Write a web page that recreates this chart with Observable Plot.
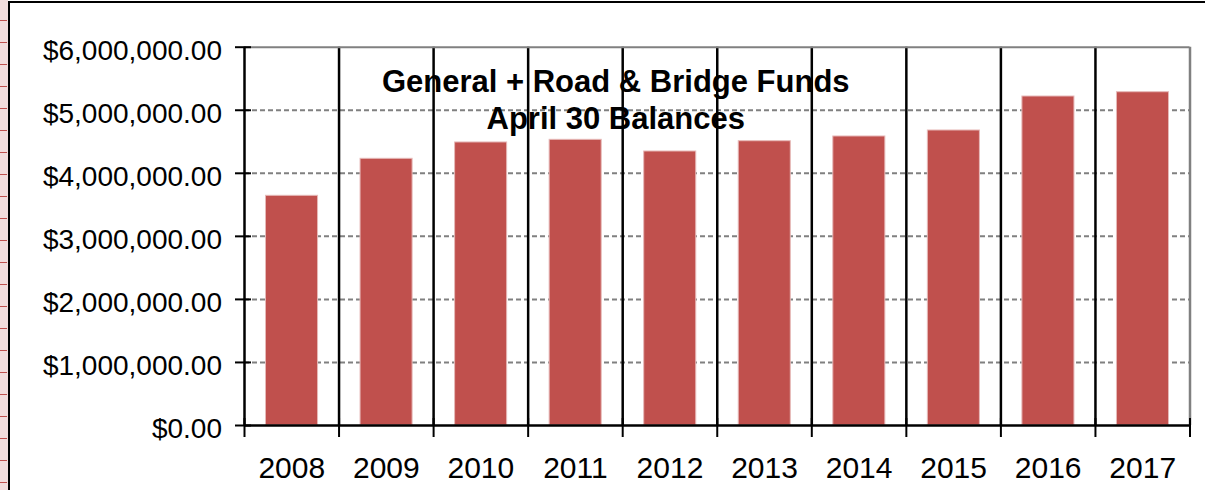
<!DOCTYPE html>
<html>
<head>
<meta charset="utf-8">
<script src="https://cdn.jsdelivr.net/npm/d3@7"></script>
<script src="https://cdn.jsdelivr.net/npm/@observablehq/plot@0.6"></script>
<style>
  html, body { margin: 0; padding: 0; background: #fff; }
  #wrap { position: relative; width: 1205px; height: 490px; overflow: hidden; background: #fff; }
  #strip { position: absolute; left: 0; top: 0; width: 8px; height: 490px; background-color: #f2dcdb;
    background-image: repeating-linear-gradient(to bottom, transparent 0px, transparent 20px, #c0504d 20px, #c0504d 21.4px, transparent 21.4px, transparent 22px);
    background-size: 7px 22px; background-repeat: repeat-y; }
  #frame { position: absolute; left: 8px; top: 1px; width: 1300px; height: 600px; border-left: 2px solid #000; border-top: 2px solid #000; box-sizing: border-box; }
  #chart { position: absolute; left: 0; top: 0; }
  #chart svg { display: block; overflow: visible; }
</style>
</head>
<body>
<div id="wrap">
  <div id="strip"></div>
  <div id="frame"></div>
  <div id="chart"></div>
</div>
<script>
const years = [2008, 2009, 2010, 2011, 2012, 2013, 2014, 2015, 2016, 2017];
const balances = [3643000, 4230000, 4489000, 4531000, 4346000, 4509000, 4584000, 4679000, 5218000, 5286000];
const yTicks = [0, 1000000, 2000000, 3000000, 4000000, 5000000, 6000000];
const titleLines = ["General + Road & Bridge Funds", "April 30 Balances"];

const data = years.map((year, i) => ({year, balance: balances[i]}));
const boundaries = years.concat([years[years.length - 1] + 1]);
const money = d => "$" + d3.format(",.2f")(d);
const font = "'Liberation Sans', Arial, sans-serif";

const chart = Plot.plot({
  width: 1205,
  height: 490,
  marginLeft: 244,
  marginRight: 15.5,
  marginTop: 46.7,
  marginBottom: 65,
  style: {fontFamily: font, background: "transparent", color: "#000"},
  x: {domain: [boundaries[0], boundaries[boundaries.length - 1]], axis: null},
  y: {domain: [0, 6000000], axis: null},
  marks: [
    // dashed horizontal gridlines
    Plot.ruleY(yTicks.slice(1, -1), {stroke: "#808080", strokeWidth: 2, strokeDasharray: "5,3"}),
    // bars
    Plot.rectY(data, {x1: d => d.year, x2: d => d.year + 1, y: "balance",
      fill: "#c0504d", stroke: "#e6b9b8", strokeWidth: 1, insetLeft: 21.5, insetRight: 21}),
    // vertical category separators
    Plot.ruleX(boundaries.slice(1, -1), {y1: 0, y2: 6000000, stroke: "#000", strokeWidth: 2.5}),
    // title
    Plot.text([titleLines.join("\n")], {frameAnchor: "top", dx: -101.5, dy: 81.6, lineAnchor: "bottom",
      lineHeight: 1.18, fontSize: 31, fontWeight: "bold", fill: "#000", text: d => d}),
    // gray plot-area border (top & right)
    Plot.ruleY([6000000], {stroke: "#808080", strokeWidth: 2}),
    Plot.ruleX([boundaries[boundaries.length - 1]], {y1: 0, y2: 6000000, stroke: "#808080", strokeWidth: 2.5}),
    // axis lines
    Plot.ruleX([boundaries[0]], {y1: 0, y2: 6000000, stroke: "#000", strokeWidth: 2.5}),
    Plot.ruleY([0], {stroke: "#000", strokeWidth: 2.5}),
    // y cross ticks
    Plot.axisY({ticks: yTicks, tickSize: 16, dx: 7, tickFormat: () => "", label: null, stroke: "#000", strokeWidth: 2}),
    // y labels
    Plot.axisY({ticks: yTicks, tickSize: 0, tickPadding: 22.5, tickFormat: money, label: null, fontSize: 28, dy: 3.5, fill: "#000"}),
    // x cross ticks at boundaries
    Plot.axisX({ticks: boundaries, tickSize: 19, dy: -7, tickFormat: () => "", label: null, stroke: "#000", strokeWidth: 2}),
    // x labels centered in categories
    Plot.text(data, {x: d => d.year + 0.5, y: 0, text: d => String(d.year), dy: 52, lineAnchor: "bottom",
      fontSize: 30, fill: "#000"})
  ]
});
document.getElementById("chart").appendChild(chart);
</script>
</body>
</html>
